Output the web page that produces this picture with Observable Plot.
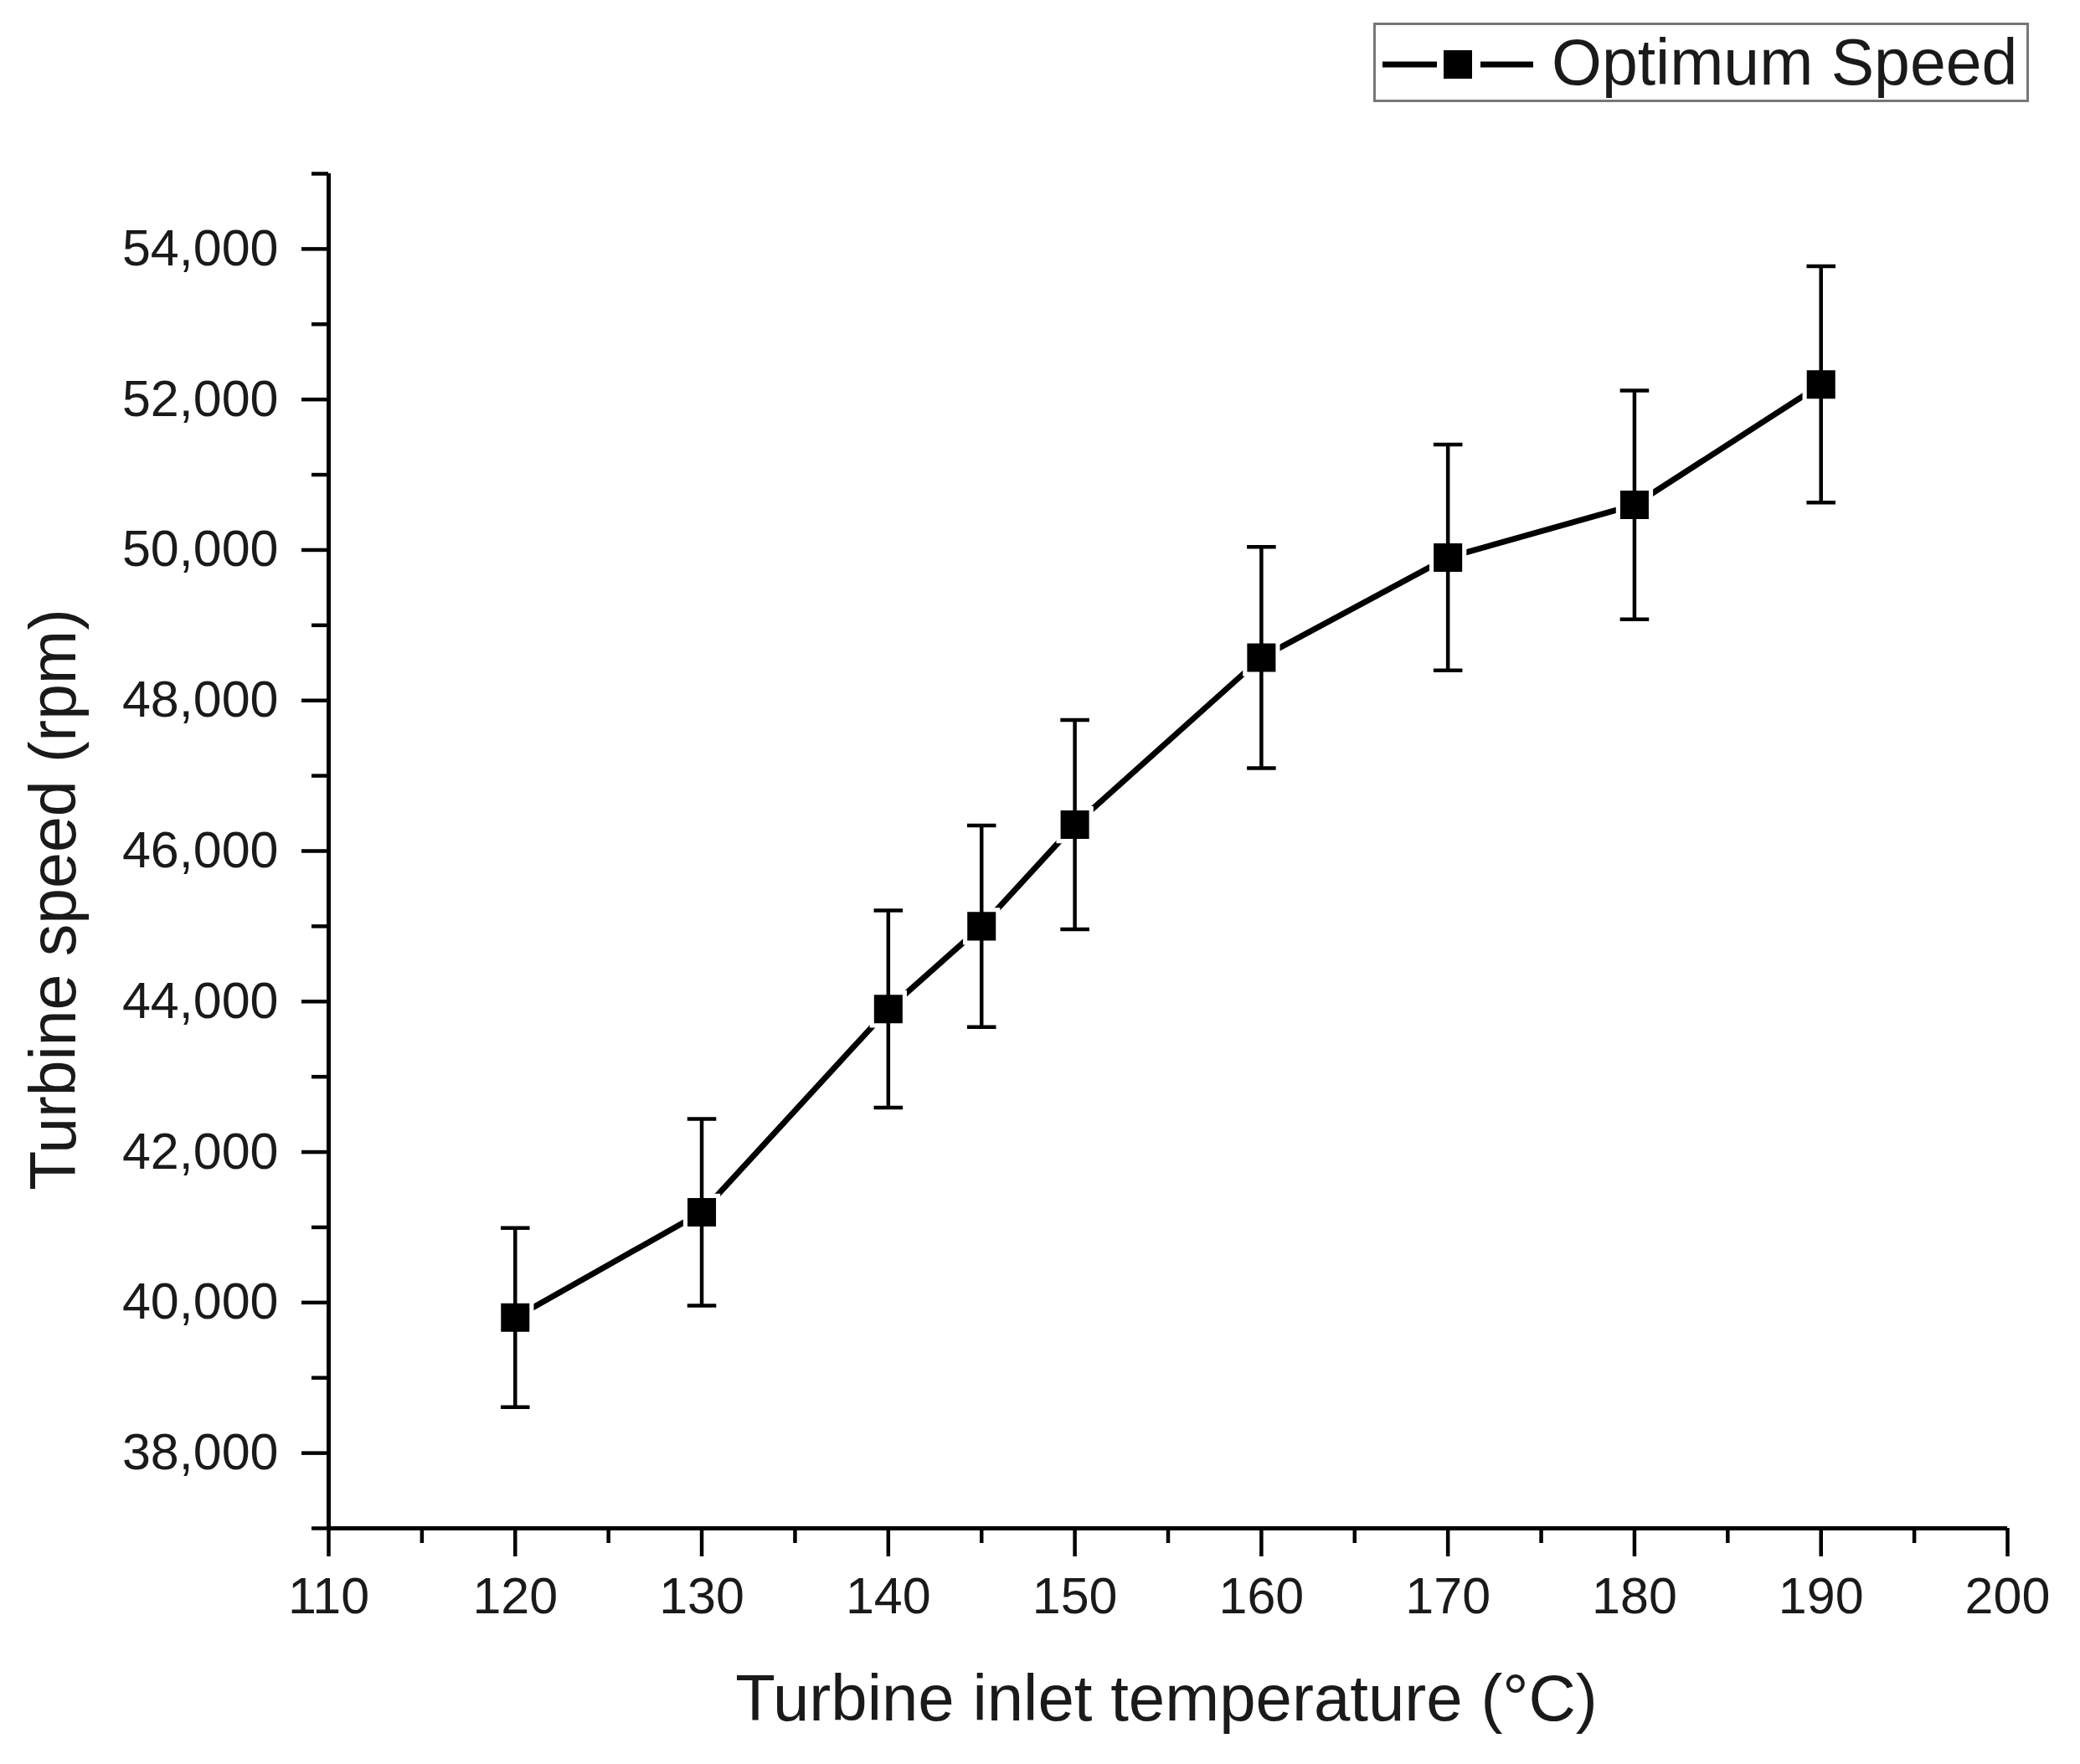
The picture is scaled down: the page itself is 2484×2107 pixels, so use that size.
<!DOCTYPE html>
<html>
<head>
<meta charset="utf-8">
<script src="https://cdn.jsdelivr.net/npm/d3@7"></script>
<script src="https://cdn.jsdelivr.net/npm/@observablehq/plot@0.6"></script>
<style>
  html, body { margin: 0; padding: 0; background: #ffffff; }
  body { width: 2484px; height: 2107px; overflow: hidden; font-family: "Liberation Sans", Arial, sans-serif; }
  #legend { position: relative; width: 2484px; height: 150px; }
  #chart svg { display: block; }
</style>
</head>
<body>
<div id="legend"></div>
<div id="chart"></div>
<script>
// ---- data ----
const temps  = [120, 130, 140, 145, 150, 160, 170, 180, 190];
const speeds = [39800, 41200, 43900, 45000, 46350, 48570, 49900, 50600, 52200];
const errs   = [1190, 1240, 1310, 1340, 1390, 1470, 1500, 1520, 1570];

const xTicks = [110, 120, 130, 140, 150, 160, 170, 180, 190, 200];
const xMinor = [115, 125, 135, 145, 155, 165, 175, 185, 195];
const yTicks = [38000, 40000, 42000, 44000, 46000, 48000, 50000, 52000, 54000];
const yMinor = [37000, 39000, 41000, 43000, 45000, 47000, 49000, 51000, 53000, 55000];

const xLabel = "Turbine inlet temperature (°C)";
const yLabel = "Turbine speed (rpm)";
const seriesName = "Optimum Speed";

const data = temps.map((t, i) => ({t, v: speeds[i], lo: speeds[i] - errs[i], hi: speeds[i] + errs[i]}));

const FONT = "'Liberation Sans', Arial, sans-serif";
const INK = "#1a1a1a";

// horizontal cap symbol for error bars
const capSymbol = {
  draw(ctx, size) {
    const w = Math.sqrt(size) / 2;
    ctx.moveTo(-w, 0);
    ctx.lineTo(w, 0);
  }
};

const chart = Plot.plot({
  width: 2484,
  height: 1957,
  marginLeft: 392,
  marginRight: 87,
  marginTop: 57,
  marginBottom: 282,
  x: {domain: [110, 200]},
  y: {domain: [37000, 55000]},
  style: {fontFamily: FONT, fontSize: "60px", color: INK, background: "#ffffff", overflow: "visible"},
  marks: [
    Plot.axisY({ticks: yMinor, tickSize: 20, strokeWidth: 4.5, stroke: "#000", tickFormat: () => "", label: null}),
    Plot.axisY({ticks: yTicks, tickSize: 32, tickPadding: 28, strokeWidth: 4.5, stroke: "#000", tickFormat: d3.format(","), label: null, fontSize: 61}),
    Plot.axisX({ticks: xMinor, tickSize: 18, strokeWidth: 4.5, stroke: "#000", tickFormat: () => "", label: null}),
    Plot.axisX({ticks: xTicks, tickSize: 34, tickPadding: 24, strokeWidth: 4.5, stroke: "#000", tickFormat: d => String(d), label: null, fontSize: 61}),
    Plot.ruleX([110], {stroke: "#000", strokeWidth: 5}),
    Plot.ruleY([37000], {stroke: "#000", strokeWidth: 5}),
    Plot.line(data, {x: "t", y: "v", stroke: "#000", strokeWidth: 7}),
    Plot.dot(data, {x: "t", y: "v", symbol: "square", r: 25, fill: "#ffffff"}),
    Plot.ruleX(data, {x: "t", y1: "lo", y2: "hi", stroke: "#000", strokeWidth: 4.5}),
    Plot.dot(data, {x: "t", y: "hi", symbol: capSymbol, r: 19.5, stroke: "#000", strokeWidth: 4.5, fill: "none"}),
    Plot.dot(data, {x: "t", y: "lo", symbol: capSymbol, r: 19.5, stroke: "#000", strokeWidth: 4.5, fill: "none"}),
    Plot.dot(data, {x: "t", y: "v", symbol: "square", r: 19.2, fill: "#000"}),
    Plot.text([xLabel], {text: d => d, frameAnchor: "bottom", lineAnchor: "top", textAnchor: "middle", dy: 174, dx: -2, fontSize: 78, fill: INK}),
    Plot.text([yLabel], {text: d => d, frameAnchor: "left", lineAnchor: "top", textAnchor: "middle", rotate: -90, dx: -357, dy: 58, fontSize: 77, fill: INK})
  ]
});
document.getElementById("chart").appendChild(chart);

// ---- legend (above the plot SVG) ----
const lg = d3.select("#legend").append("svg")
  .attr("width", 2484).attr("height", 150)
  .style("position", "absolute").style("left", 0).style("top", 0);
lg.append("rect").attr("x", 1641.5).attr("y", 28.5).attr("width", 780).attr("height", 92)
  .attr("fill", "#fff").attr("stroke", "#777").attr("stroke-width", 3);
lg.append("line").attr("x1", 1651).attr("x2", 1716).attr("y1", 77).attr("y2", 77).attr("stroke", "#000").attr("stroke-width", 7);
lg.append("line").attr("x1", 1768).attr("x2", 1831).attr("y1", 77).attr("y2", 77).attr("stroke", "#000").attr("stroke-width", 7);
lg.append("rect").attr("x", 1724).attr("y", 60).attr("width", 34).attr("height", 34).attr("fill", "#000");
lg.append("text").attr("x", 1853).attr("y", 101).attr("font-family", FONT).attr("font-size", 77)
  .attr("fill", INK).text(seriesName);
</script>
</body>
</html>
